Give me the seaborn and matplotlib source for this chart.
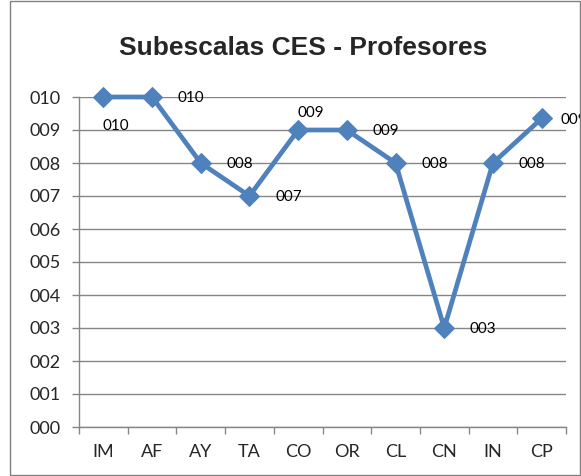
import matplotlib
matplotlib.use("Agg")
import matplotlib.pyplot as plt
import seaborn as sns
import pandas as pd
from matplotlib.patches import Rectangle
from matplotlib.ticker import FixedLocator, FuncFormatter

categories = ["IM", "AF", "AY", "TA", "CO", "OR", "CL", "CN", "IN", "CP"]
values = [10, 10, 8, 7, 9, 9, 8, 3, 8, 9.35]
labels = ["010", "010", "008", "007", "009", "009", "008", "003", "008", "009"]
yticks = list(range(0, 11))
title = "Subescalas CES - Profesores"

# label offsets (points) relative to each marker
offsets = [(9, -21), (28, -1), (28, -1), (28, -1), (9, 12), (28, -1), (28, -1), (28, -1), (28, -1), (23, -1)]

sns.set_theme(style="white")
plt.rcParams['font.family'] = ['Lato', 'DejaVu Sans']

fig = plt.figure(figsize=(5.81, 4.76), dpi=100)
ax = fig.add_axes([79/581, 1-427/476, (566-79)/581, (427-97)/476])

df = pd.DataFrame({"cat": categories, "val": values, "x": range(len(categories))})
sns.lineplot(data=df, x="x", y="val", ax=ax, color="#4F81BD", linewidth=3.4,
             marker="D", markersize=10.5, markeredgecolor="#4F81BD", clip_on=False, zorder=5)

for i, (v, lab, off) in enumerate(zip(values, labels, offsets)):
    ax.annotate(lab, (i, v), xytext=off, textcoords="offset points",
                ha="center", va="center", fontsize=11, color="black",
                annotation_clip=False, zorder=6)

ax.set_xlim(-0.5, len(categories) - 0.5)
ax.set_ylim(0, 10)
ax.set_yticks(yticks)
ax.yaxis.set_major_formatter(FuncFormatter(lambda v, p: f"{int(round(v)):03d}"))
ax.set_xticks(range(len(categories)))
ax.set_xticklabels(categories)
ax.xaxis.set_minor_locator(FixedLocator([i - 0.5 for i in range(len(categories) + 1)]))
ax.tick_params(axis="x", which="major", length=0, pad=12, labelsize=13)
ax.tick_params(axis="x", which="minor", length=5, color="#868686", width=1, direction="out", bottom=True)
ax.tick_params(axis="y", which="major", length=5, color="#868686", width=1, direction="out", left=True, pad=8, labelsize=13)
ax.set_xlabel("")
ax.set_ylabel("")
ax.grid(axis="y", color="#868686", linewidth=1)
ax.set_axisbelow(True)
for s in ["top", "right"]:
    ax.spines[s].set_visible(False)
for s in ["left", "bottom"]:
    ax.spines[s].set_color("#868686")
    ax.spines[s].set_linewidth(1)

fig.text(303/581, 1-48/476, title, ha="center", va="center", fontsize=19,
         fontweight="bold", family=["Liberation Sans", "DejaVu Sans"])

fig.patches.append(Rectangle((10/581, 0.002), 1 - 10/581 - 0.002, 0.996, transform=fig.transFigure,
                             fill=False, edgecolor="#808080", linewidth=1))

fig.savefig("out.png", dpi=100)
